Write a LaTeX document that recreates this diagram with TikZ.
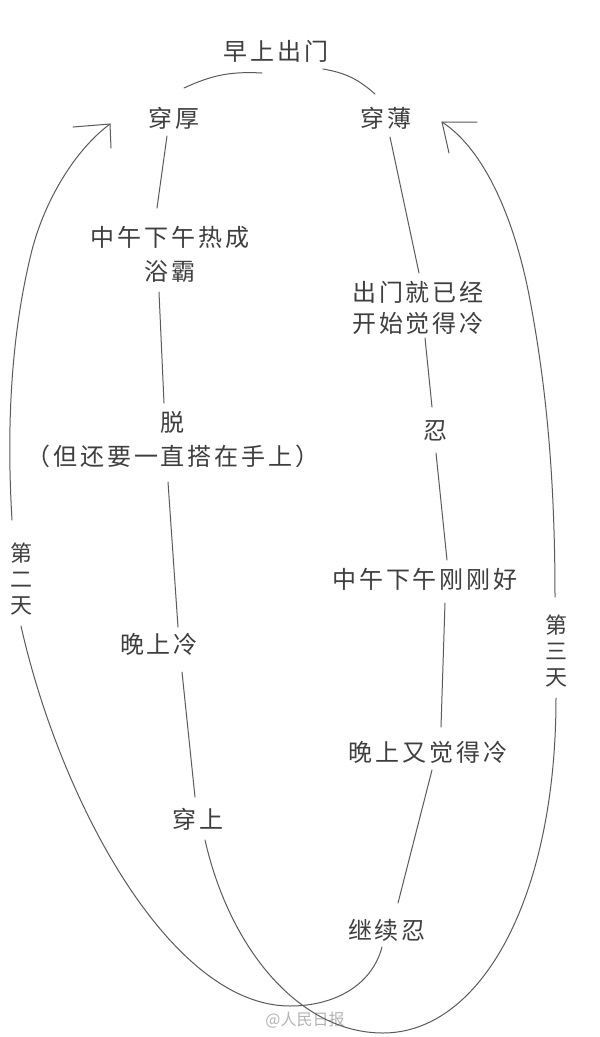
\documentclass[tikz,border=0pt]{standalone}
\usepackage{fontspec}
\newfontfamily\cjk[LetterSpace=12]{Noto Sans CJK SC}
\newfontfamily\cjkwm{Noto Sans CJK SC}
\definecolor{inkc}{HTML}{3E3E3E}
\definecolor{linec}{HTML}{5A5A5A}
\definecolor{wmc}{HTML}{B4B4B4}
\begin{document}
\begin{tikzpicture}[x=1pt,y=-1pt,
  lbl/.style={inner sep=0pt,text=inkc,font=\cjk\fontsize{24}{34}\selectfont,align=center},
  lbltwo/.style={lbl,font=\cjk\fontsize{24}{31}\selectfont},
  vlbl/.style={inner sep=0pt,text=inkc,font=\cjkwm\fontsize{22}{26}\selectfont,align=center},
  conn/.style={draw=linec,line width=1pt,line cap=round,line join=round}]
\fill[white] (0,0) rectangle (600,1037);
\useasboundingbox (0,0) rectangle (600,1037);

% nodes
\node[lbl] (zs) at (276,51) {早上出门};
\node[lbl] (ch) at (174,118) {穿厚};
\node[lbl] (cb) at (386,118) {穿薄};
\node[lbl] (zw) at (170,254) {中午下午热成\\浴霸};
\node[lbl] (tuo) at (173,440) {脱\\（但还要一直搭在手上）};
\node[lbl] (wl) at (159,644) {晚上冷};
\node[lbl] (cs) at (198,819) {穿上};
\node[lbltwo] (cm) at (418,307.5) {出门就已经\\开始觉得冷};
\node[lbl] (ren) at (435,431) {忍};
\node[lbl] (gh) at (425,579) {中午下午刚刚好};
\node[lbl] (wy) at (428,752) {晚上又觉得冷};
\node[lbl] (jx) at (387,930) {继续忍};
\node[vlbl] (d2) at (21,579) {第\\二\\天};
\node[vlbl] (d3) at (556,651) {第\\三\\天};
\node[inner sep=0pt,text=wmc,font=\cjkwm\fontsize{16}{18}\selectfont] (wm) at (305,1020) {@人民日报};

% top arcs
\draw[conn] ([shift={(-14,22)}]zs.center) to[bend right=14] ([shift={(10,-30)}]ch.center);
\draw[conn] ([shift={(47,18)}]zs.center) to[bend left=16] ([shift={(-11,-24)}]cb.center);

% left column
\draw[conn] ([shift={(-7,18)}]ch.center) -- ([shift={(-13,-46)}]zw.center);
\draw[conn] ([shift={(-11,38)}]zw.center) -- ([shift={(-9,-37)}]tuo.center);
\draw[conn] ([shift={(-5,42)}]tuo.center) -- ([shift={(19,-17)}]wl.center);
\draw[conn] ([shift={(23,28)}]wl.center) -- ([shift={(-3,-22)}]cs.center);

% right column
\draw[conn] ([shift={(4,19)}]cb.center) -- ([shift={(1,-34.5)}]cm.center);
\draw[conn] ([shift={(7,30.5)}]cm.center) -- ([shift={(-3,-24)}]ren.center);
\draw[conn] ([shift={(1,22)}]ren.center) -- ([shift={(22,-19)}]gh.center);
\draw[conn] ([shift={(20,24)}]gh.center) -- ([shift={(13,-25)}]wy.center);
\draw[conn] ([shift={(4,18)}]wy.center) -- ([shift={(11,-27)}]jx.center);

% big left loop: 继续忍 -> 第二天 -> 穿厚
\coordinate (botL) at (290,1006);
\draw[conn] ([shift={(-5,17)}]jx.center) .. controls (372,985) and (335,1006) .. (botL)
  .. controls (170,1006) and (60,800) .. ([shift={(0,47)}]d2.center);
\coordinate (tipL) at ([shift={(-64,6)}]ch.center);
\coordinate (midL) at (32,250);
\draw[conn] ([shift={(-9,-59)}]d2.center) .. controls (6,420) and (12,330) .. (midL)
  .. controls (45,200) and (75,150) .. (tipL);
\draw[conn] ([shift={(-37,3)}]tipL) -- (tipL) -- ([shift={(1,24)}]tipL);

% big right loop: 穿上 -> 第三天 -> 穿薄
\coordinate (botR) at (383,1033);
\draw[conn] ([shift={(7,21)}]cs.center) .. controls (230,950) and (300,1033) .. (botR)
  .. controls (480,1033) and (556,900) .. ([shift={(0,47)}]d3.center);
\coordinate (tipR) at ([shift={(56,4)}]cb.center);
\coordinate (midR) at (530,300);
\draw[conn] ([shift={(-1,-54)}]d3.center) .. controls (555,470) and (545,380) .. (midR)
  .. controls (515,220) and (485,150) .. (tipR);
\draw[conn] ([shift={(35,0)}]tipR) -- (tipR) -- ([shift={(7,31)}]tipR);
\end{tikzpicture}
\end{document}
